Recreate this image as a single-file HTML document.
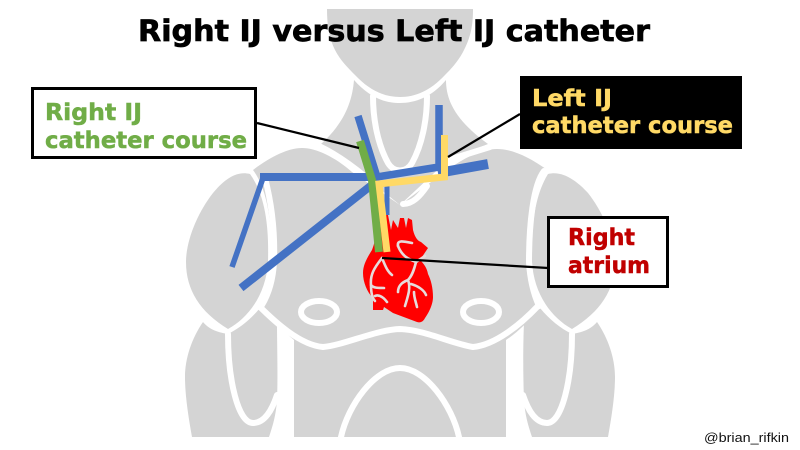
<!DOCTYPE html>
<html><head><meta charset="utf-8"><style>
html,body{margin:0;padding:0;background:#fff}
svg{display:block}
text{font-family:"DejaVu Sans","Liberation Sans",sans-serif;font-weight:700}
</style></head><body>
<svg width="800" height="450" viewBox="0 0 800 450" xmlns="http://www.w3.org/2000/svg">
<rect width="800" height="450" fill="#fff"/>
<g fill="#d4d4d4">
<!-- head -->
<path d="M327 9H473C473 25 471 37 463 52C457 63 450 70 445 75C430 91 415 97 400 97C385 97 370 91 355 75C348 68 340 60 335 50C329 38 327 25 327 9Z"/>
<!-- neck -->
<path d="M354 80C370 98 385 103 400 103C415 103 432 97 446 80C446 100 455 120 488 144L448 160L400 205L350 165L321 144C342 125 352 105 354 80Z"/>
<!-- torso -->
<path d="M253 170C270 157 288 148 302 148C316 148 335 157 352 172L400 205L450 168C468 156 482 149 497 149C513 149 530 158 546 169C532 190 528 225 528 260C530 280 534 295 540 308C530 320 518 332 506 340V437H294V340C282 330 270 318 261 305C268 292 272 280 272 260C272 225 268 190 253 170Z"/>
<!-- deltoids -->
<path d="M250 174C235 170 222 182 213 193C198 212 186 240 186 262C186 290 200 312 228 329C248 318 266 295 268 262C269 225 265 195 250 174Z"/>
<path d="M548 174C563 170 578 182 588 193C603 212 615 240 615 262C615 290 600 312 572 329C552 318 534 295 532 262C531 225 535 195 548 174Z"/>
<!-- upper arms -->
<path d="M203 322C192 338 185 358 185 377C185 397 189 420 192 437H269C273 425 276 415 277 400C278 375 277 345 277 323L260 308C250 320 240 328 228 334C215 332 208 328 203 322Z"/>
<path d="M597 322C608 338 615 358 615 377C615 397 611 420 608 437H532C528 425 525 415 524 400C523 375 523 345 524 323L540 308C550 320 560 328 572 334C585 332 592 328 597 322Z"/>
</g>
<!-- white strokes -->
<g fill="none" stroke="#fff" stroke-width="6" stroke-linecap="round">
<path d="M373 96C373 120 378 145 388 163C394 173 406 173 412 163C422 145 427 120 427 96"/>
<path d="M312 143C335 152 358 170 374 184"/>
<path d="M403 204C413 204 420 196 427 186"/>
<path d="M490 147L448 160"/>
<path d="M259 306C275 322 300 345 323 347C345 345 375 330 400 329C425 330 450 343 473 347C495 345 520 325 538 306"/>
<path d="M228 334C228 380 238 423 253 423C265 423 272 410 277 395"/>
<path d="M572 334C572 380 562 423 547 423C535 423 528 410 523 395"/>
<path d="M341 437C348 405 375 368 400 368C425 368 452 405 459 437"/>
<path d="M265 178C272 205 275 235 274 262C273 280 268 295 262 305"/>
<path d="M544 171C533 185 529 225 529 262C530 280 534 295 539 306"/>
<ellipse cx="319" cy="312" rx="18" ry="11"/>
<ellipse cx="481" cy="312" rx="18" ry="11"/>
</g>
<!-- heart -->
<path fill="#ff0000" d="M380 213L388 215L391 230L393 220L398 228L400 218L404 218L406 228L408 218L412 220L413 230C415 238 418 241 421 242L428 248L420 260C424 264 427 268 428 274C431 280 433 288 433 297C433 305 428 314 425 318C423 322 420 323 417 322L393 313L384 307L383 310H373L373 298C367 292 363 282 363 273C363 265 367 258 372 250C376 240 378 225 380 213Z"/>
<g fill="none" stroke="#e6dcdc" stroke-width="2.600" stroke-linecap="round">
<path d="M382 258C386 268 388 272 392 275"/>
<path d="M382 258C374 268 370 275 371 285C373 288 378 288 384 288"/>
<path d="M371 285C371 293 372 298 375 301"/>
<path d="M375 296C380 294 384 298 387 302"/>
<path d="M398 246C397 240 402 241 412 243"/>
<path d="M398 246C402 256 408 259 416 262C414 270 412 276 408 280"/>
<path d="M408 280C403 282 398 285 398 292"/>
<path d="M408 280C411 288 408 296 405 306"/>
<path d="M411 284C418 286 424 290 426 295"/>
<path d="M414 292C414 298 416 302 417 307"/>
<path d="M416 262L425 256"/>
</g>
<!-- blue -->
<g fill="none" stroke="#4472c4" stroke-linejoin="miter">
<path stroke-width="8" d="M372 177H260"/>
<path stroke-width="5.500" d="M263 178L232 267"/>
<path stroke-width="8" d="M241 288L373 184"/>
<path stroke-width="7.500" d="M358 116L377 177L439 167V105"/>
<path stroke-width="10" d="M438 173L488 164"/>
<path stroke-width="5" d="M387 184V215"/>
</g>
<!-- green -->
<path fill="none" stroke="#70ad47" stroke-width="8" d="M360 141L372 180L379 252"/>
<!-- yellow -->
<path fill="none" stroke="#ffd966" stroke-width="7" stroke-linejoin="miter" d="M444.500 135V177L379 184L387 252"/>
<!-- leader lines -->
<g stroke="#000" stroke-width="2.200" fill="none">
<path d="M257 123L359 148"/>
<path d="M520 114L448 157"/>
<path d="M382 258L548 268"/>
</g>
<!-- boxes -->
<rect x="32.500" y="88.500" width="223" height="69" fill="#fff" stroke="#000" stroke-width="3"/>
<g font-size="23.500" stroke-width="0.500">
<text x="45" y="120" fill="#70ad47" stroke="#70ad47" textLength="97" lengthAdjust="spacingAndGlyphs">Right IJ</text>
<text x="45" y="148" fill="#70ad47" stroke="#70ad47" textLength="202" lengthAdjust="spacingAndGlyphs">catheter course</text>
<rect x="520" y="76" width="222" height="73" fill="#000" stroke="none"/>
<text x="532" y="106" fill="#ffd966" stroke="#ffd966" textLength="80" lengthAdjust="spacingAndGlyphs">Left IJ</text>
<text x="532" y="133" fill="#ffd966" stroke="#ffd966" textLength="201" lengthAdjust="spacingAndGlyphs">catheter course</text>
<rect x="548.500" y="217.500" width="119" height="69" fill="#fff" stroke="#000" stroke-width="3"/>
<text x="568" y="245" fill="#c00000" stroke="#c00000" textLength="67" lengthAdjust="spacingAndGlyphs">Right</text>
<text x="568" y="273" fill="#c00000" stroke="#c00000" textLength="82" lengthAdjust="spacingAndGlyphs">atrium</text>
</g>
<!-- title -->
<text x="138" y="41" font-size="29.500" fill="#000" stroke="#000" stroke-width="0.700" textLength="512" lengthAdjust="spacingAndGlyphs">Right IJ versus Left IJ catheter</text>
<text x="704" y="442" font-size="13" fill="#111" style="font-family:'Liberation Sans',sans-serif;font-weight:400" textLength="85" lengthAdjust="spacingAndGlyphs">@brian_rifkin</text>
</svg>
</body></html>
